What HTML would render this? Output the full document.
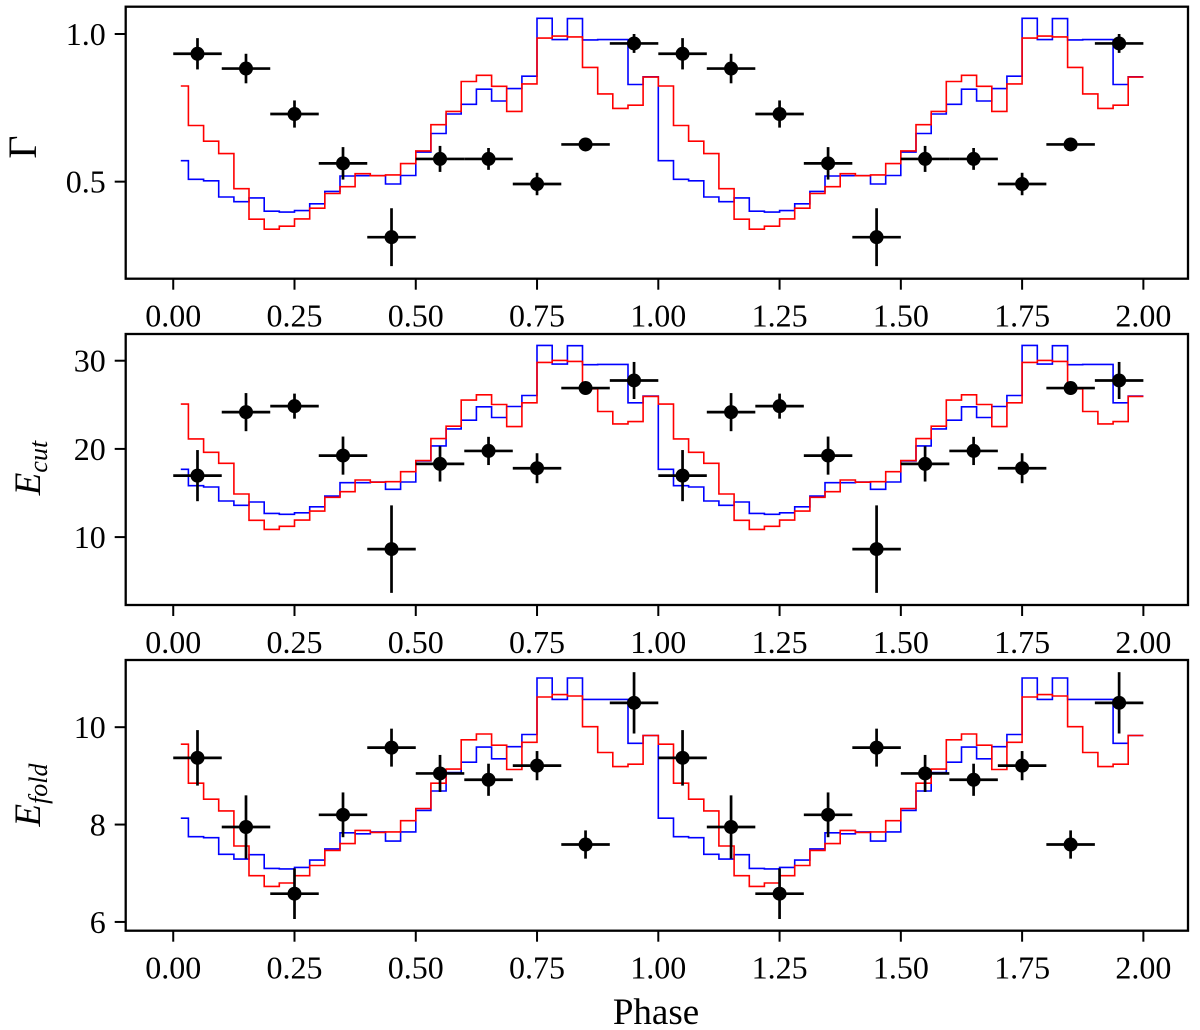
<!DOCTYPE html>
<html><head><meta charset="utf-8"><style>
body{margin:0;background:#fff;}
svg{display:block;font-family:"Liberation Serif",serif;}
</style></head><body>
<svg id="chart" width="1200" height="1030" viewBox="0 0 1200 1030" xmlns="http://www.w3.org/2000/svg" font-family="'Liberation Serif', serif"></svg>
<script>
const xTickLabels = ["0.00","0.25","0.50","0.75","1.00","1.25","1.50","1.75","2.00"];
const xTickValues = [0,0.25,0.5,0.75,1.0,1.25,1.5,1.75,2.0];
const dataPhase = [0.05,0.15,0.25,0.35,0.45,0.55,0.65,0.75,0.85,0.95];
const gammaVal = [0.933,0.883,0.729,0.562,0.312,0.577,0.577,0.492,0.626,0.968];
const gammaErr = [0.053,0.050,0.046,0.055,0.098,0.044,0.037,0.038,0.01,0.032];
const gammaRed = [0.824,0.690,0.637,0.595,0.476,0.373,0.339,0.349,0.374,0.410,0.460,0.483,0.527,0.520,0.523,0.561,0.604,0.693,0.738,0.839,0.860,0.823,0.738,0.831,0.986,0.993,0.990,0.887,0.797,0.748,0.759,0.854];
const gammaBlue = [0.571,0.508,0.503,0.448,0.432,0.445,0.400,0.397,0.402,0.425,0.467,0.519,0.520,0.520,0.492,0.521,0.600,0.663,0.729,0.762,0.813,0.773,0.815,0.857,1.053,0.981,1.052,0.980,0.981,0.981,0.829,0.855];
const ecutVal = [16.97,24.17,24.85,19.24,8.64,18.30,19.77,17.81,26.9,27.76];
const ecutErr = [2.9,2.16,1.42,2.16,4.96,2.0,1.6,1.7,0.4,2.1];
const ecutRed = [25.08,21.14,19.62,18.37,14.89,11.90,10.87,11.22,11.93,12.95,14.51,15.15,16.48,16.22,16.28,17.42,18.67,21.17,22.58,25.53,26.14,25.04,22.53,25.23,29.81,30.04,29.92,26.82,24.24,22.84,23.10,25.95];
const ecutBlue = [17.69,15.83,15.68,14.09,13.60,13.98,12.69,12.58,12.76,13.44,14.66,16.17,16.17,16.25,15.42,16.25,18.64,20.34,22.27,23.26,24.77,23.56,24.81,26.06,31.74,29.62,31.70,29.55,29.58,29.58,25.23,25.99];
const efoldVal = [9.37,7.95,6.58,8.20,9.58,9.05,8.92,9.21,7.59,10.50];
const efoldErr = [0.57,0.65,0.52,0.46,0.39,0.38,0.33,0.30,0.29,0.63];
const efoldRed = [9.65,8.85,8.52,8.28,7.56,6.95,6.73,6.80,6.95,7.16,7.47,7.61,7.88,7.84,7.85,8.08,8.33,8.85,9.14,9.74,9.86,9.63,9.13,9.69,10.62,10.67,10.64,10.01,9.48,9.19,9.24,9.83];
const efoldBlue = [8.13,7.75,7.73,7.39,7.29,7.38,7.10,7.09,7.12,7.27,7.50,7.83,7.81,7.85,7.66,7.85,8.29,8.69,9.07,9.28,9.59,9.35,9.60,9.85,11.01,10.57,11.01,10.57,10.57,10.57,9.67,9.83];
const gammaTicks = [0.5,1.0], gammaTickLabels = ["0.5","1.0"];
const ecutTicks = [10,20,30], ecutTickLabels = ["10","20","30"];
const efoldTicks = [6,8,10], efoldTickLabels = ["6","8","10"];

const NS = "http://www.w3.org/2000/svg";
const FONT = "'Liberation Serif', serif";
const svg = document.getElementById('chart');
function mk(tag, attrs, parent){const e=document.createElementNS(NS,tag);for(const k in attrs)e.setAttribute(k,attrs[k]);(parent||svg).appendChild(e);return e;}
const L=125.7, R=1188, X0=-0.098, X1=2.092;
const xs = v => L + (v-X0)/(X1-X0)*(R-L);

const panels = [
 {name:'gamma', top:6.7, bot:278.7, ymin:0.1714, ymax:1.0924, val:gammaVal, err:gammaErr, red:gammaRed, blue:gammaBlue, ticks:gammaTicks, tl:gammaTickLabels},
 {name:'ecut', top:334, bot:605, ymin:2.30, ymax:33.03, val:ecutVal, err:ecutErr, red:ecutRed, blue:ecutBlue, ticks:ecutTicks, tl:ecutTickLabels},
 {name:'efold', top:660, bot:930.7, ymin:5.82, ymax:11.38, val:efoldVal, err:efoldErr, red:efoldRed, blue:efoldBlue, ticks:efoldTicks, tl:efoldTickLabels}
];

panels.forEach(p=>{
  const g = mk('g',{});
  
  
  const ys = v => p.bot - (v-p.ymin)/(p.ymax-p.ymin)*(p.bot-p.top);
  const clipId='clip-'+p.name;
  const cp = mk('clipPath',{id:clipId},g); mk('rect',{x:L,y:p.top,width:R-L,height:p.bot-p.top},cp);
  function step(vals,color,nm){
    const n=vals.length; let d='';
    for(let c=0;c<2;c++){
      for(let k=0;k<n;k++){
        const i=c*n+k;
        const x0 = xs(i===0 ? 0.5/n : i/n), x1 = xs((i+1)/n), y=ys(vals[k]);
        d += (i===0?'M':'L')+x0.toFixed(1)+','+y.toFixed(1)+' L'+x1.toFixed(1)+','+y.toFixed(1)+' ';
      }
    }
    const e=mk('path',{d:d,fill:'none',stroke:color,'stroke-width':1.6,'clip-path':'url(#'+clipId+')'},g);
    
    
  }
  step(p.blue,'#0000ff',p.name+'-blue-model');
  step(p.red,'#ff0000',p.name+'-red-model');
  for(let c=0;c<2;c++){
    dataPhase.forEach((ph,i)=>{
      const x=xs(ph+c), y=ys(p.val[i]);
      const pg=mk('g',{},g);
      
      
      mk('line',{x1:xs(ph+c-0.05),x2:xs(ph+c+0.05),y1:y,y2:y,stroke:'#000','stroke-width':2.7},pg);
      mk('line',{x1:x,x2:x,y1:ys(p.val[i]-p.err[i]),y2:ys(p.val[i]+p.err[i]),stroke:'#000','stroke-width':2.7},pg);
      mk('circle',{cx:x,cy:y,r:7,fill:'#000'},pg);
    });
  }
  const fr=mk('rect',{x:L,y:p.top,width:R-L,height:p.bot-p.top,fill:'none',stroke:'#000','stroke-width':2.3},g);
  
  
  xTickValues.forEach((v,i)=>{
    const x=xs(v);
    mk('line',{x1:x,x2:x,y1:p.bot,y2:p.bot+11,stroke:'#000','stroke-width':2},g);
    const t=mk('text',{x:x,y:p.bot+48,'text-anchor':'middle','font-size':32,'font-family':FONT},g);
    
    
    t.textContent=xTickLabels[i];
  });
  p.ticks.forEach((v,i)=>{
    const y=ys(v);
    mk('line',{x1:L-11,x2:L,y1:y,y2:y,stroke:'#000','stroke-width':2},g);
    const t=mk('text',{x:L-20,y:y+11,'text-anchor':'end','font-size':32,'font-family':FONT},g);
    
    
    t.textContent=p.tl[i];
  });
});
</script>
<text x="0" y="0" font-size="40" text-anchor="middle" transform="translate(36,147) rotate(-90)" font-family="'Liberation Serif', serif">Γ</text>
<text x="0" y="0" font-size="37" text-anchor="middle" transform="translate(40,468) rotate(-90)" font-family="'Liberation Serif', serif"><tspan font-style="italic">E</tspan><tspan font-style="italic" font-size="26" dy="7">cut</tspan></text>
<text x="0" y="0" font-size="37" text-anchor="middle" transform="translate(40,795) rotate(-90)" font-family="'Liberation Serif', serif"><tspan font-style="italic">E</tspan><tspan font-style="italic" font-size="26" dy="7">fold</tspan></text>
<text x="656" y="1024" font-size="37" text-anchor="middle" font-family="'Liberation Serif', serif">Phase</text>
<script>
document.querySelectorAll('body > text').forEach(t=>{
  const n=document.createElementNS("http://www.w3.org/2000/svg",'text');
  for(const a of t.attributes) n.setAttribute(a.name,a.value);
  n.innerHTML=t.innerHTML; document.getElementById('chart').appendChild(n); t.remove();
});
</script>
</body></html>
